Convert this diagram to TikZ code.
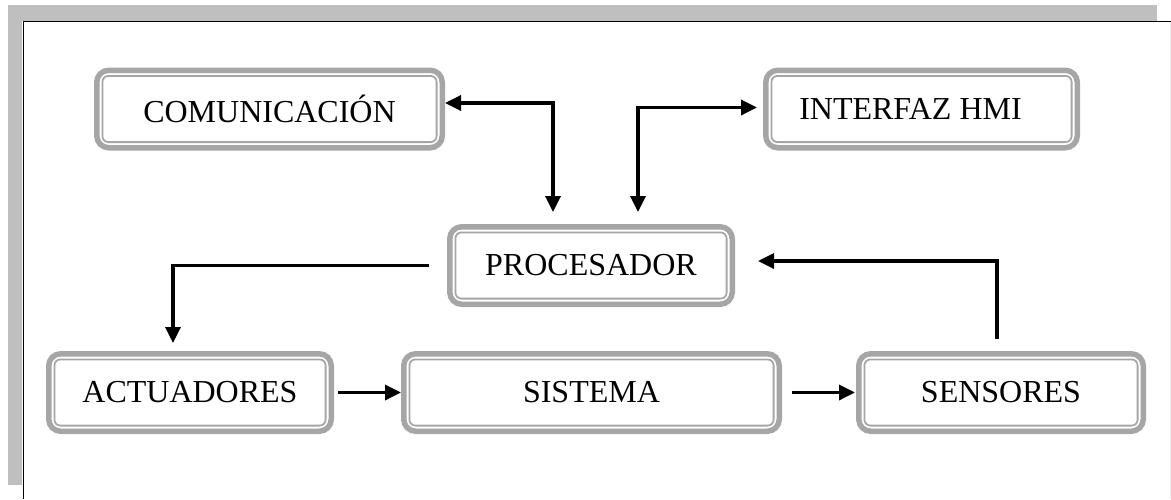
\documentclass[tikz,border=0pt]{standalone}
\usepackage{fontspec}
\setmainfont{Liberation Serif}
\usetikzlibrary{arrows.meta}
\definecolor{framegray}{HTML}{BFBFBF}
\definecolor{boxgray}{HTML}{A6A6A6}
\tikzset{
  blk/.style={draw=boxgray, line width=5.5pt, rounded corners=12pt, fill=white,
    minimum height=77.5pt, inner sep=0pt, text=black,
    font=\fontsize{32}{38}\selectfont},
  innerline/.style={draw=boxgray, line width=1.8pt, rounded corners=6pt},
  flow/.style={line width=3.4pt, -{Triangle[length=16pt,width=15pt]}},
  biflow/.style={line width=3.4pt, {Triangle[length=16pt,width=15pt]}-{Triangle[length=16pt,width=15pt]}}
}
\begin{document}
\begin{tikzpicture}[x=1pt, y=-1pt]
\useasboundingbox (0,0) rectangle (1171,499);
% page frame with shadow band
\fill[framegray] (8,5) rectangle (1157,21);
\fill[framegray] (8,5) rectangle (22,485);
\draw[line width=1.4pt] (1171,21.5) -- (23.3,21.5) -- (23.3,499);
\draw[black!8, line width=0.8pt] (1170,22) -- (1170,499);

% blocks
\node[blk, minimum width=345.5pt] (comm) at (269.5,109) {COMUNICACIÓN};
\node[blk, minimum width=311.5pt] (hmi)  at (921.5,109) {INTERFAZ HMI\hspace*{22pt}};
\node[blk, minimum width=282.5pt] (proc) at (591,265.5) {PROCESADOR};
\node[blk, minimum width=282.5pt] (act)  at (190,392.5) {ACTUADORES};
\node[blk, minimum width=375.5pt] (sis)  at (591.5,392.5) {SISTEMA};
\node[blk, minimum width=284.5pt] (sen)  at (1001,392.5) {SENSORES};

% thin inner outline of every block
\foreach \n in {comm,hmi,proc,act,sis,sen}
  \draw[innerline] ([shift={(8.4pt,-8.4pt)}]\n.north west)
    rectangle ([shift={(-8.4pt,8.4pt)}]\n.south east);

% connectors
\draw[biflow] ([yshift=6pt]comm.east) -| ([xshift=-38pt,yshift=12pt]proc.north);
\draw[biflow] ([xshift=47pt,yshift=12pt]proc.north) |- ([xshift=-6pt,yshift=1.5pt]hmi.west);
\draw[flow] ([xshift=-18pt]proc.west) -| ([xshift=-17pt,yshift=8pt]act.north);
\draw[flow] ([xshift=4pt]act.east) -- (sis.west);
\draw[flow] ([xshift=10pt]sis.east) -- ([xshift=-1pt]sen.west);
\draw[flow] ([xshift=-4pt,yshift=12pt]sen.north) |- ([xshift=23pt,yshift=4.5pt]proc.east);
\end{tikzpicture}
\end{document}
